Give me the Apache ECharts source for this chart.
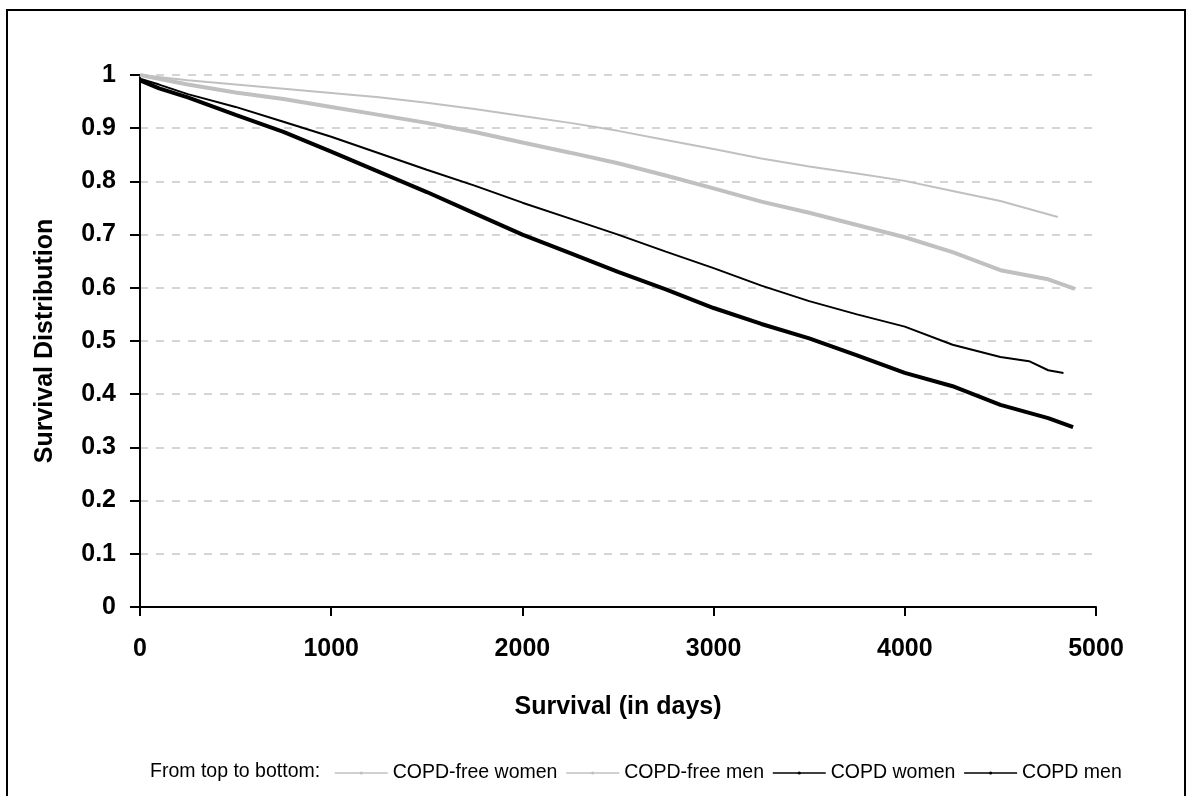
<!DOCTYPE html>
<html>
<head>
<meta charset="utf-8">
<title>Survival Distribution</title>
<script src="https://cdn.jsdelivr.net/npm/echarts@6/dist/echarts.min.js"></script>
<style>
    html, body { margin: 0; padding: 0; background: #fff; }
    #survivalChart { width: 1190px; height: 796px; }
</style>
</head>
<body>
<div id="survivalChart"></div>
<script>
// series names (legend order = top to bottom)
var seriesNames = ['COPD-free women', 'COPD-free men', 'COPD women', 'COPD men'];
var legendLead = 'From top to bottom:';

// COPD-free women
var freeWomenDays = [0, 250, 500, 750, 1000, 1250, 1500, 1750, 2000, 2250, 2500, 2750, 3000, 3250, 3500, 3750, 4000, 4250, 4500, 4650, 4800];
var freeWomenSurv = [1.0, 0.99, 0.982, 0.974, 0.966, 0.958, 0.948, 0.936, 0.923, 0.91, 0.895, 0.878, 0.861, 0.843, 0.828, 0.815, 0.801, 0.782, 0.763, 0.748, 0.733];

// COPD-free men
var freeMenDays = [0, 250, 500, 750, 1000, 1250, 1500, 1750, 2000, 2250, 2500, 2750, 3000, 3250, 3500, 3750, 4000, 4250, 4500, 4750, 4890];
var freeMenSurv = [1.0, 0.982, 0.967, 0.955, 0.94, 0.925, 0.91, 0.893, 0.873, 0.854, 0.834, 0.811, 0.787, 0.762, 0.741, 0.718, 0.695, 0.667, 0.633, 0.616, 0.598];

// COPD women
var copdWomenDays = [0, 100, 250, 500, 750, 1000, 1250, 1500, 1750, 2000, 2250, 2500, 2750, 3000, 3250, 3500, 3750, 4000, 4250, 4500, 4650, 4750, 4830];
var copdWomenSurv = [0.993, 0.982, 0.964, 0.94, 0.912, 0.884, 0.853, 0.822, 0.792, 0.76, 0.73, 0.70, 0.668, 0.637, 0.604, 0.575, 0.55, 0.527, 0.493, 0.47, 0.462, 0.445, 0.44];

// COPD men
var copdMenDays = [0, 100, 250, 500, 750, 1000, 1250, 1500, 1750, 2000, 2250, 2500, 2750, 3000, 3250, 3500, 3750, 4000, 4250, 4500, 4750, 4880];
var copdMenSurv = [0.99, 0.975, 0.958, 0.925, 0.893, 0.856, 0.818, 0.78, 0.74, 0.70, 0.665, 0.63, 0.597, 0.562, 0.532, 0.505, 0.473, 0.44, 0.415, 0.38, 0.355, 0.338];

function pairUp(days, surv) {
    var out = [];
    for (var i = 0; i < days.length; i++) {
        out.push([days[i], surv[i]]);
    }
    return out;
}

function lineSeries(name, data, color, width) {
    return {
        name: name,
        type: 'line',
        data: data,
        showSymbol: false,
        symbol: 'circle',
        smooth: false,
        animation: false,
        lineStyle: { color: color, width: width },
        itemStyle: { color: color }
    };
}

window.onload = function() {
    var font = '"Liberation Sans", Arial, sans-serif';
    var gray = '#c0c0c0';

    var option = {
        backgroundColor: '#fff',
        textStyle: { fontFamily: font },
        grid: { left: 140, right: 94, top: 75, bottom: 189 },
        xAxis: {
            type: 'value',
            min: 0,
            max: 5000,
            interval: 1000,
            name: 'Survival (in days)',
            nameLocation: 'middle',
            nameGap: 88,
            nameTextStyle: { color: '#000', fontSize: 25, fontWeight: 'bold', fontFamily: font },
            axisLine: { show: true, lineStyle: { color: '#000', width: 2 } },
            axisTick: { show: true, length: 9, lineStyle: { color: '#000', width: 2 } },
            axisLabel: {
                color: '#000', fontSize: 25, fontWeight: 'bold', margin: 30, fontFamily: font,
                // no thousands separator, like the original
                formatter: function(v) { return String(v); }
            },
            splitLine: { show: false }
        },
        yAxis: {
            type: 'value',
            min: 0,
            max: 1,
            interval: 0.1,
            name: 'Survival Distribution',
            nameLocation: 'middle',
            nameGap: 82,
            nameTextStyle: { color: '#000', fontSize: 25, fontWeight: 'bold', fontFamily: font },
            axisLine: { show: true, lineStyle: { color: '#000', width: 2 } },
            axisTick: { show: true, length: 10, lineStyle: { color: '#000', width: 2 } },
            axisLabel: { color: '#000', fontSize: 25, fontWeight: 'bold', margin: 24, fontFamily: font },
            splitLine: { show: true, lineStyle: { color: '#c8c8c8', width: 1.5, type: [8, 8] } }
        },
        legend: {
            left: 329,
            top: 758,
            itemWidth: 53,
            itemHeight: 4,
            itemGap: 8,
            icon: 'inherit',
            lineStyle: { width: 1.5 },
            textStyle: { color: '#000', fontSize: 19.5, fontFamily: font },
            data: seriesNames
        },
        graphic: [
            {
                type: 'rect',
                shape: { x: 7, y: 10, width: 1178, height: 830 },
                style: { fill: 'none', stroke: '#000', lineWidth: 2 },
                silent: true
            },
            {
                type: 'text',
                left: 150,
                top: 762,
                style: { text: legendLead, fill: '#000', fontSize: 19.5, fontFamily: font }
            }
        ],
        series: [
            lineSeries(seriesNames[0], pairUp(freeWomenDays, freeWomenSurv), gray, 2),
            lineSeries(seriesNames[1], pairUp(freeMenDays, freeMenSurv), gray, 4),
            lineSeries(seriesNames[2], pairUp(copdWomenDays, copdWomenSurv), '#000', 2),
            lineSeries(seriesNames[3], pairUp(copdMenDays, copdMenSurv), '#000', 4)
        ]
    };

    var survivalChart = echarts.init(document.getElementById('survivalChart'));
    survivalChart.setOption(option);
};
</script>
</body>
</html>
